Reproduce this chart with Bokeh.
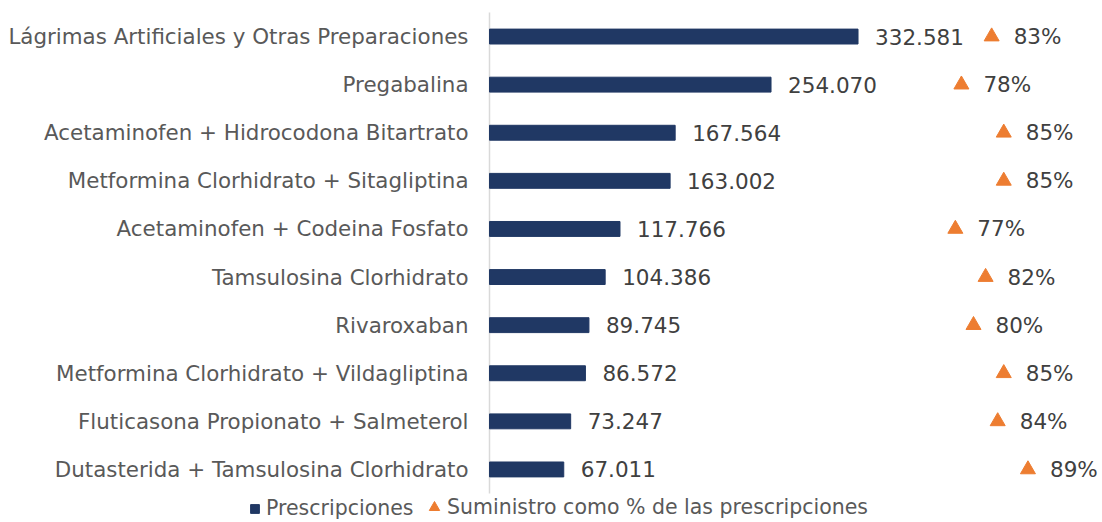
from bokeh.plotting import figure
from bokeh.models import ColumnDataSource, Range1d, Legend, LegendItem
from bokeh.core.properties import value
from bokeh.embed import file_html
from bokeh.resources import INLINE

categories = [
    "Lágrimas Artificiales y Otras Preparaciones",
    "Pregabalina",
    "Acetaminofen + Hidrocodona Bitartrato",
    "Metformina Clorhidrato + Sitagliptina",
    "Acetaminofen + Codeina Fosfato",
    "Tamsulosina Clorhidrato",
    "Rivaroxaban",
    "Metformina Clorhidrato + Vildagliptina",
    "Fluticasona Propionato + Salmeterol",
    "Dutasterida + Tamsulosina Clorhidrato",
]
prescripciones = [332581, 254070, 167564, 163002, 117766, 104386, 89745, 86572, 73247, 67011]
suministro_pct = [83, 78, 85, 85, 77, 82, 80, 85, 84, 89]

FONT = "DejaVu Sans"
BAR_COLOR = "#203864"
TRI_COLOR = "#ED7D31"

# layout (pixels)
W, H = 1102, 520
AXIS_X = 489          # pixel position of the value axis (x = 0)
ROW_TOP, ROW_H = 12, 48.1
UNITS_PER_PX = 546000 / 605   # bar scale
PCT_PER_PX = 1 / 605          # secondary (percent) scale

n = len(categories)
src = ColumnDataSource(dict(
    row=list(range(n)),
    cat=categories,
    zero=[0] * n,
    val=prescripciones,
    val_lbl=[f"{v:,}".replace(",", ".") for v in prescripciones],
    pct=[p / 100 for p in suministro_pct],
    pct_lbl=[f"{p}%" for p in suministro_pct],
))

y_top = -ROW_TOP / ROW_H - 0.5
y_bot = (H - ROW_TOP) / ROW_H - 0.5

p = figure(
    x_range=Range1d(-AXIS_X * UNITS_PER_PX, (W - AXIS_X) * UNITS_PER_PX),
    y_range=Range1d(y_bot, y_top),
    x_axis_location=None, y_axis_location=None,
    frame_width=W, frame_height=H,
    min_border=0,
    output_backend="svg", toolbar_location=None,
)
p.extra_x_ranges = {"pct": Range1d(-AXIS_X * PCT_PER_PX, (W - AXIS_X) * PCT_PER_PX)}
p.xgrid.visible = False
p.ygrid.visible = False
p.outline_line_color = None

# value axis line
p.segment(x0=[0], x1=[0], y0=[-0.5], y1=[n - 0.5], line_color="#d9d9d9", line_width=1.5)

bars = p.hbar(y="row", right="val", left=0, height=0.31, source=src,
              fill_color=BAR_COLOR, line_color=BAR_COLOR)
tris = p.scatter(x="pct", y="row", source=src, x_range_name="pct", marker="triangle",
                 size=15, fill_color=TRI_COLOR, line_color=TRI_COLOR)

# category labels
p.text(x="zero", y="row", text="cat", source=src, x_offset=-21,
       text_align="right", text_baseline="middle", text_font=value(FONT),
       text_font_size="21.4px", text_color="#595959")
# value labels
p.text(x="val", y="row", text="val_lbl", source=src, x_offset=17,
       text_align="left", text_baseline="middle", text_font=value(FONT),
       text_font_size="21.5px", text_color="#404040")
# percent labels
p.text(x="pct", y="row", text="pct_lbl", source=src, x_range_name="pct", x_offset=22,
       text_align="left", text_baseline="middle", text_font=value(FONT),
       text_font_size="21.5px", text_color="#404040")

common = dict(
    orientation="horizontal",
    label_text_font=FONT, label_text_font_size="20.5px", label_text_color="#595959",
    padding=0, margin=0, border_line_color=None, background_fill_alpha=0,
)
legend_bar = Legend(
    items=[LegendItem(label="Prescripciones", renderers=[bars])],
    location=(249, 0), glyph_width=11, glyph_height=11, label_standoff=6,
    label_height=20, **common,
)
legend_tri = Legend(
    items=[LegendItem(label="Suministro como % de las prescripciones", renderers=[tris])],
    location=(421, 0), glyph_width=26, glyph_height=26, label_standoff=-2,
    label_height=20, **common,
)
p.add_layout(legend_bar, "center")
p.add_layout(legend_tri, "center")

open("out.html", "w").write(file_html(p, INLINE))
